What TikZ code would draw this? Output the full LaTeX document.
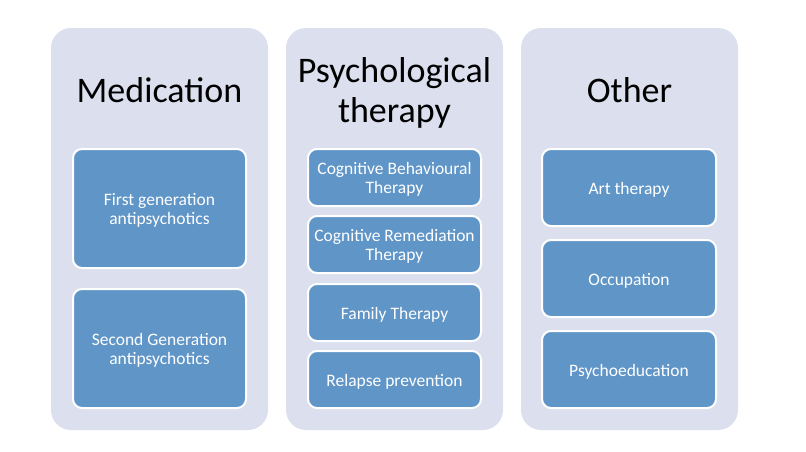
\documentclass[tikz,border=0pt]{standalone}
\usepackage{fontspec}
\setmainfont{Carlito}
\definecolor{panelbg}{HTML}{DCE0EE}
\definecolor{itembg}{HTML}{5F95C7}
\begin{document}
\begin{tikzpicture}[x=1pt,y=-1pt,
  panel/.style={fill=panelbg, rounded corners=20pt},
  item/.style={fill=itembg, draw=white, line width=2pt, rounded corners=9pt},
  itemtext/.style={text=white, font=\fontsize{17.5}{19}\selectfont, align=center},
  title/.style={font=\fontsize{36}{40}\selectfont, align=center}]
\useasboundingbox (0,0) rectangle (806,451);
% panels
\fill[panel] (51,28) rectangle (268,430);
\fill[panel] (286,28) rectangle (503,430);
\fill[panel] (521,28) rectangle (738,430);
% titles
\node[title] (t1) at (159.5,90) {Medication};
\node[title] (t2) at (394.5,93) {Psychological\\therapy};
\node[title] (t3) at (629.5,90) {Other};
% column 1
\draw[item] (73,149) rectangle (246,268);
\node[itemtext] (a1) at (159.5,210.5) {First generation\\antipsychotics};
\draw[item] (73,289) rectangle (246,408);
\node[itemtext] (a2) at (159.5,350.5) {Second Generation\\antipsychotics};
% column 2
\draw[item] (308,149) rectangle (481,206);
\node[itemtext] (b1) at (394.5,179.5) {Cognitive Behavioural\\Therapy};
\draw[item] (308,216) rectangle (481,273);
\node[itemtext] (b2) at (394.5,246.5) {Cognitive Remediation\\Therapy};
\draw[item] (308,284) rectangle (481,341);
\node[itemtext] (b3) at (394.5,314.5) {Family Therapy};
\draw[item] (308,351) rectangle (481,408);
\node[itemtext] (b4) at (394.5,381.5) {Relapse prevention};
% column 3
\draw[item] (542,149) rectangle (716,226);
\node[itemtext] (c1) at (629,189.5) {Art therapy};
\draw[item] (542,240) rectangle (716,317);
\node[itemtext] (c2) at (629,280.5) {Occupation};
\draw[item] (542,331) rectangle (716,408);
\node[itemtext] (c3) at (629,371.5) {Psychoeducation};
\end{tikzpicture}
\end{document}
